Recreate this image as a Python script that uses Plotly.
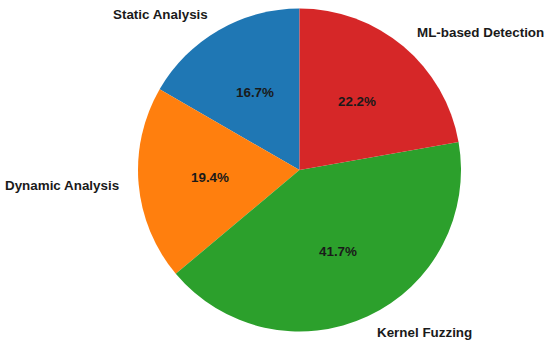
import math
import plotly.graph_objects as go

labels = ["Static Analysis", "Dynamic Analysis", "Kernel Fuzzing", "ML-based Detection"]
values = [6, 7, 15, 8]
colors = ["#1f77b4", "#ff7f0e", "#2ca02c", "#d62728"]

W, H = 550, 346
cx, cy, r = 299.5, 170.0, 161.5   # pie centre / radius in pixels
r_lab, r_pct = 179.0, 90.0        # label and percentage distances in pixels

total = sum(values)
fig = go.Figure(go.Pie(
    labels=labels, values=values, sort=False, direction="counterclockwise",
    rotation=-360 * values[0] / total,
    marker=dict(colors=colors, line=dict(width=0)),
    textinfo="none", hoverinfo="label+percent", showlegend=False,
    domain=dict(x=[(cx - r) / W, (cx + r) / W], y=[1 - (cy + r) / H, 1 - (cy - r) / H]),
))

cum = 0
font_lab = dict(family="Liberation Sans, Arial, sans-serif", size=13.4, color="#1a1a1a")
for lab, v in zip(labels, values):
    mid = math.radians(90 + 360 * (cum + v / 2) / total)
    cum += v
    c, s = math.cos(mid), math.sin(mid)
    # outer label
    lx, ly = cx + r_lab * c, cy - r_lab * s
    fig.add_annotation(x=lx / W, y=1 - ly / H, xref="paper", yref="paper",
                       text=f"<b>{lab}</b>", showarrow=False,
                       xanchor="left" if c > 0 else "right", yanchor="middle",
                       font=font_lab)
    # percentage
    px, py = cx + r_pct * c, cy - r_pct * s
    fig.add_annotation(x=px / W, y=1 - py / H, xref="paper", yref="paper",
                       text=f"<b>{100 * v / total:.1f}%</b>", showarrow=False,
                       xanchor="center", yanchor="middle", font=font_lab)

fig.update_layout(width=W, height=H, margin=dict(l=0, r=0, t=0, b=0),
                  paper_bgcolor="white", plot_bgcolor="white")
fig.write_html("out.html", config={"displayModeBar": False},
               post_script="document.body.style.margin='0';document.body.style.padding='0';")
